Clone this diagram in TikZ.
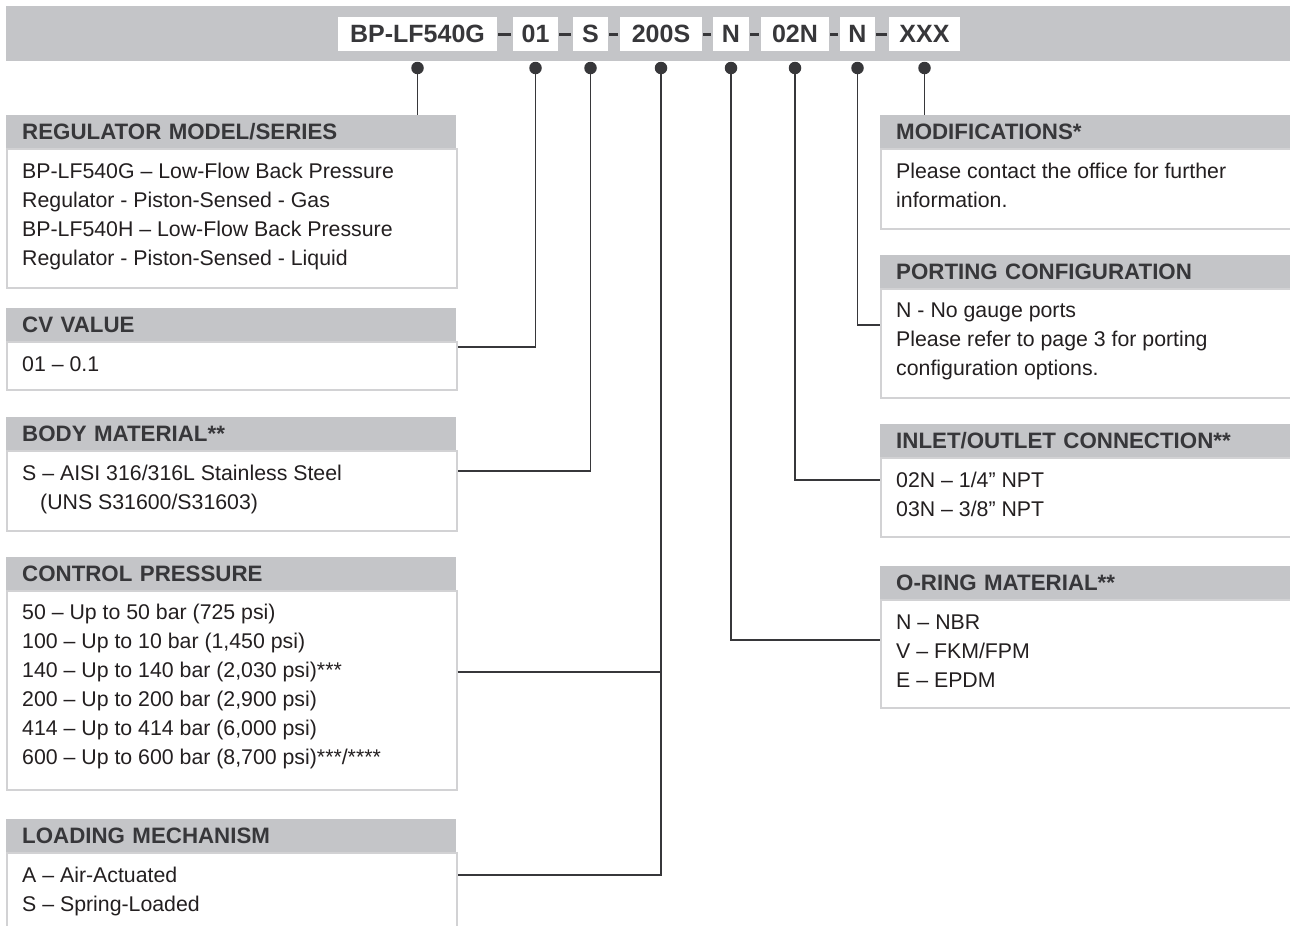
\documentclass[tikz,border=0pt]{standalone}
\usepackage{fontspec}
\setmainfont{Liberation Sans}
\usepackage{tikz}
\usetikzlibrary{calc,positioning}
\definecolor{bargray}{RGB}{196,197,200}
\definecolor{linegray}{RGB}{210,210,212}
\definecolor{inkgray}{RGB}{55,55,58}
\definecolor{txtgray}{RGB}{35,31,32}
\newcommand{\lnstrut}{\rule{0pt}{17pt}}

\begin{document}
\begin{tikzpicture}[x=1pt,y=-1pt,
    code/.style={fill=white,inner sep=0pt,minimum height=34pt,text height=17.5pt,text depth=0pt,text=inkgray,font=\fontsize{25}{25}\selectfont\bfseries},
    codedash/.style={line width=3pt,inkgray,shorten <=1pt,shorten >=2pt},
    dot/.style={circle,fill=inkgray,inner sep=0pt,minimum size=12.5pt},
    conn/.style={line width=1.4pt,inkgray},
    lhdr/.style={fill=bargray,anchor=north west,minimum height=33pt,inner xsep=16pt,inner ysep=0pt,text height=16pt,text depth=0pt,text width=418pt,align=left,text=inkgray,font=\fontsize{22.3}{22.3}\selectfont\bfseries},
    rhdr/.style={lhdr,text width=380pt},
    bodybox/.style={draw=linegray,line width=1.5pt,fill=white,anchor=north west,inner sep=0pt},
    bodytxt/.style={anchor=north west,inner sep=0pt,align=left,text=txtgray,font=\fontsize{21.3}{29}\selectfont}]
                      \fill[white] (0,0) rectangle (1290,926);
                      \useasboundingbox (0,0) rectangle (1290,926);
                      \fill[bargray] (6,6) rectangle (1292,61);
                      \node[code,minimum width=159pt] (c1) at (417.5,34) {BP-LF540G};
                      \node[code,minimum width=45pt] (c2) at (535.5,34) {01};
                      \node[code,minimum width=35pt] (c3) at (590.5,34) {S};
                      \node[code,minimum width=82pt] (c4) at (661,34) {200S};
                      \node[code,minimum width=36pt] (c5) at (731,34) {N};
                      \node[code,minimum width=68pt] (c6) at (795,34) {02N};
                      \node[code,minimum width=35pt] (c7) at (857.5,34) {N};
                      \node[code,minimum width=71pt] (c8) at (924.5,34) {XXX};
                      \draw[codedash] (c1) -- (c2);
                      \draw[codedash] (c2) -- (c3);
                      \draw[codedash] (c3) -- (c4);
                      \draw[codedash] (c4) -- (c5);
                      \draw[codedash] (c5) -- (c6);
                      \draw[codedash] (c6) -- (c7);
                      \draw[codedash] (c7) -- (c8);
                      \node[dot] (d1) at (c1.south |- 0,68) {};
                      \node[dot] (d2) at (c2.south |- 0,68) {};
                      \node[dot] (d3) at (c3.south |- 0,68) {};
                      \node[dot] (d4) at (c4.south |- 0,68) {};
                      \node[dot] (d5) at (c5.south |- 0,68) {};
                      \node[dot] (d6) at (c6.south |- 0,68) {};
                      \node[dot] (d7) at (c7.south |- 0,68) {};
                      \node[dot] (d8) at (c8.south |- 0,68) {};

                      \node[bodybox,minimum width=450pt,minimum height=139pt] (regbox) at (6,148) {};
                      \node[lhdr] (reghd) at (6,115) {REGULATOR MODEL/SERIES};
                      \node[bodytxt] (regtxt) at (22,161) {\lnstrut BP-LF540G – Low-Flow Back Pressure\\Regulator - Piston-Sensed - Gas\\BP-LF540H – Low-Flow Back Pressure\\Regulator - Piston-Sensed - Liquid};
                      \node[bodybox,minimum width=450pt,minimum height=48pt] (cvbox) at (6,341) {};
                      \node[lhdr] (cvhd) at (6,308) {CV VALUE};
                      \node[bodytxt] (cvtxt) at (22,354) {\lnstrut 01 – 0.1};
                      \node[bodybox,minimum width=450pt,minimum height=80pt] (bmbox) at (6,450) {};
                      \node[lhdr] (bmhd) at (6,417) {BODY MATERIAL**};
                      \node[bodytxt] (bmtxt) at (22,463) {\lnstrut S – AISI 316/316L Stainless Steel\\\hspace*{18pt}(UNS S31600/S31603)};
                      \node[bodybox,minimum width=450pt,minimum height=199pt] (cpbox) at (6,590) {};
                      \node[lhdr] (cphd) at (6,557) {CONTROL PRESSURE};
                      \node[bodytxt] (cptxt) at (22,602) {\lnstrut 50 – Up to 50 bar (725 psi)\\100 – Up to 10 bar (1,450 psi)\\140 – Up to 140 bar (2,030 psi)***\\200 – Up to 200 bar (2,900 psi)\\414 – Up to 414 bar (6,000 psi)\\600 – Up to 600 bar (8,700 psi)***/****};
                      \node[bodybox,minimum width=450pt,minimum height=80pt] (lmbox) at (6,852) {};
                      \node[lhdr] (lmhd) at (6,819) {LOADING MECHANISM};
                      \node[bodytxt] (lmtxt) at (22,865) {\lnstrut A – Air-Actuated\\S – Spring-Loaded};

                      \node[bodybox,minimum width=412pt,minimum height=80pt] (modbox) at (880,148) {};
                      \node[rhdr] (modhd) at (880,115) {MODIFICATIONS*};
                      \node[bodytxt] (modtxt) at (896,161) {\lnstrut Please contact the office for further\\information.};
                      \node[bodybox,minimum width=412pt,minimum height=109pt] (pcbox) at (880,288) {};
                      \node[rhdr] (pchd) at (880,255) {PORTING CONFIGURATION};
                      \node[bodytxt] (pctxt) at (896,300) {\lnstrut N - No gauge ports\\Please refer to page 3 for porting\\configuration options.};
                      \node[bodybox,minimum width=412pt,minimum height=79pt] (iobox) at (880,457) {};
                      \node[rhdr] (iohd) at (880,424) {INLET/OUTLET CONNECTION**};
                      \node[bodytxt] (iotxt) at (896,470) {\lnstrut 02N – 1/4” NPT\\03N – 3/8” NPT};
                      \node[bodybox,minimum width=412pt,minimum height=108pt] (orbox) at (880,599) {};
                      \node[rhdr] (orhd) at (880,566) {O-RING MATERIAL**};
                      \node[bodytxt] (ortxt) at (896,612) {\lnstrut N – NBR\\V – FKM/FPM\\E – EPDM};

                      \coordinate (cvin) at (cvbox.east |- 0,347);
                      \coordinate (bmin) at (bmbox.east |- 0,471);
                      \coordinate (cpin) at (cpbox.east |- 0,672);
                      \coordinate (lmin) at (lmbox.east |- 0,875);
                      \coordinate (pcin) at (pcbox.west |- 0,325);
                      \coordinate (ioin) at (iobox.west |- 0,480);
                      \coordinate (orin) at (orbox.west |- 0,640);
                      \draw[conn] (d1) -- (d1 |- reghd.north);
                      \draw[conn] (d2) |- (cvin);
                      \draw[conn] (d3) |- (bmin);
                      \draw[conn] (d4) |- (lmin);
                      \draw[conn] (cpin) -- (cpin -| d4);
                      \draw[conn] (d5) |- (orin);
                      \draw[conn] (d6) |- (ioin);
                      \draw[conn] (d7) |- (pcin);
                      \draw[conn] (d8) -- (d8 |- modhd.north);
                  \end{tikzpicture}
\end{document}
